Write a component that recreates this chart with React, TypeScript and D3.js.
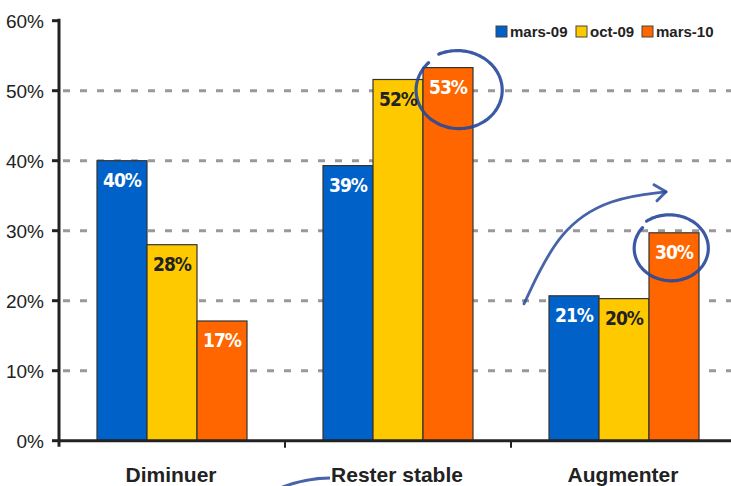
import React from "react";
import * as d3 from "d3";

const categories = ["Diminuer", "Rester stable", "Augmenter"];
const seriesNames = ["mars-09", "oct-09", "mars-10"];
const mars09 = [40, 39.3, 20.7];
const oct09 = [28, 51.6, 20.3];
const mars10 = [17.1, 53.3, 29.7];
const yTicks = [0, 10, 20, 30, 40, 50, 60];

const W = 731, H = 486;
const colors = ["#0062C9", "#FFC900", "#FF6600"];
const labelColors = ["#ffffff", "#222222", "#ffffff"];

export default function App() {
  const series = [mars09, oct09, mars10];
  const left = 59, axisY = 440.7, top = 20.7;
  const x = d3.scaleBand<string>().domain(categories).range([left, left + 678]);
  const xs = d3.scaleBand<string>().domain(seriesNames).range([38, 188]);
  const y = d3.scaleLinear().domain([0, 60]).range([axisY, top]);
  const ink = "#27489A";
  const cx = (ci: number, si: number) => (x(categories[ci]) as number) + (xs(seriesNames[si]) as number) + xs.bandwidth() / 2;

  const c1x = cx(1, 2) + 9, c1y = y(mars10[1]) + 22;
  const c2x = cx(2, 2) - 5, c2y = y(mars10[2]) + 15;
  const ellipse = (ecx: number, ecy: number, rx: number, ry: number, a0: number, a1: number) => {
    const pts: [number, number][] = [];
    for (let a = a0; a <= a1; a += 0.05) pts.push([ecx + rx * Math.cos(a) + (a - a0) * 0.6, ecy + ry * Math.sin(a)]);
    return d3.line().curve(d3.curveCatmullRom)(pts) as string;
  };
  const arrowStartX = cx(2, 0) - 50, arrowStartY = y(mars09[2]) + 8;
  const arrowEndX = cx(2, 2) - 8, arrowEndY = y(mars10[2]) - 41;
  const arrowPath = d3.line().curve(d3.curveBasis)([
    [arrowStartX, arrowStartY],
    [arrowStartX + 35, arrowStartY - 75],
    [arrowEndX - 55, arrowEndY + 6],
    [arrowEndX, arrowEndY],
  ]) as string;
  const rx0 = x(categories[1]) as number;

  return (
    <svg width={W} height={H} style={{ position: "absolute", left: 0, top: 0, background: "#fff" }}>
      {yTicks.filter((t) => t > 0 && t < 60).map((t) => (
        <line key={t} x1={left + 4} x2={W} y1={y(t)} y2={y(t)} stroke="#999" strokeWidth={3} strokeDasharray="7,10" />
      ))}
      {categories.map((c, ci) =>
        series.map((s, si) => {
          const bx = (x(c) as number) + (xs(seriesNames[si]) as number);
          return (
            <rect key={c + si} x={bx} y={y(s[ci])} width={xs.bandwidth()} height={axisY - y(s[ci])} fill={colors[si]} stroke="#333" strokeWidth={1.2} />
          );
        })
      )}
      <path d={ellipse(c1x, c1y, 44, 39, -2.0, 3.9)} fill="none" stroke={ink} strokeWidth={3.2} strokeLinecap="round" opacity={0.9} />
      <path d={ellipse(c2x, c2y, 38, 33, -2.2, 3.8)} fill="none" stroke={ink} strokeWidth={3.2} strokeLinecap="round" opacity={0.9} />
      <path d={arrowPath} fill="none" stroke={ink} strokeWidth={2.8} strokeLinecap="round" opacity={0.85} />
      <path d={`M${arrowEndX - 12},${arrowEndY - 7} L${arrowEndX},${arrowEndY} L${arrowEndX - 9},${arrowEndY + 9}`} fill="none" stroke={ink} strokeWidth={3} strokeLinecap="round" strokeLinejoin="round" opacity={0.85} />
      <path d={`M${rx0 - 5},${H + 2} Q${rx0 + 20},${H - 8} ${rx0 + 45},${H - 8}`} fill="none" stroke={ink} strokeWidth={3} opacity={0.85} />
      {categories.map((c, ci) =>
        series.map((s, si) => {
          const bx = (x(c) as number) + (xs(seriesNames[si]) as number);
          return (
            <text key={c + si} x={bx + xs.bandwidth() / 2} y={y(s[ci]) + 26} textAnchor="middle" fill={labelColors[si]}
              fontFamily="'DejaVu Sans Condensed', 'Liberation Sans Narrow', sans-serif" fontWeight="bold" fontSize={19} letterSpacing={-1}>
              {Math.round(s[ci])}%
            </text>
          );
        })
      )}
      <line x1={left} x2={left} y1={top - 2} y2={axisY + 6} stroke="#222" strokeWidth={3} />
      {yTicks.map((t) => (
        <g key={t}>
          <line x1={left - 7} x2={left} y1={y(t)} y2={y(t)} stroke="#222" strokeWidth={3} />
          <text x={left - 15} y={y(t) + 7} textAnchor="end" fontFamily="'Liberation Sans', Arial, sans-serif" fontSize={19} fill="#222">{t}%</text>
        </g>
      ))}
      <line x1={left} x2={W} y1={axisY} y2={axisY} stroke="#222" strokeWidth={3} />
      {categories.map((c) => (
        <g key={c}>
          <line x1={(x(c) as number) + x.bandwidth()} x2={(x(c) as number) + x.bandwidth()} y1={axisY} y2={axisY + 7} stroke="#222" strokeWidth={2} />
          <text x={(x(c) as number) + x.bandwidth() / 2 - 1} y={482} textAnchor="middle" fontFamily="'Liberation Sans', Arial, sans-serif" fontWeight="bold" fontSize={21} fill="#222">{c}</text>
        </g>
      ))}
      {seriesNames.map((n, i) => {
        const lx = [496, 576, 642][i];
        return (
          <g key={n}>
            <rect x={lx} y={26} width={11} height={11} fill={colors[i]} stroke="#444" strokeWidth={1} />
            <text x={lx + 14} y={37} fontFamily="'Liberation Sans', Arial, sans-serif" fontWeight="bold" fontSize={15} fill="#222">{n}</text>
          </g>
        );
      })}
    </svg>
  );
}
